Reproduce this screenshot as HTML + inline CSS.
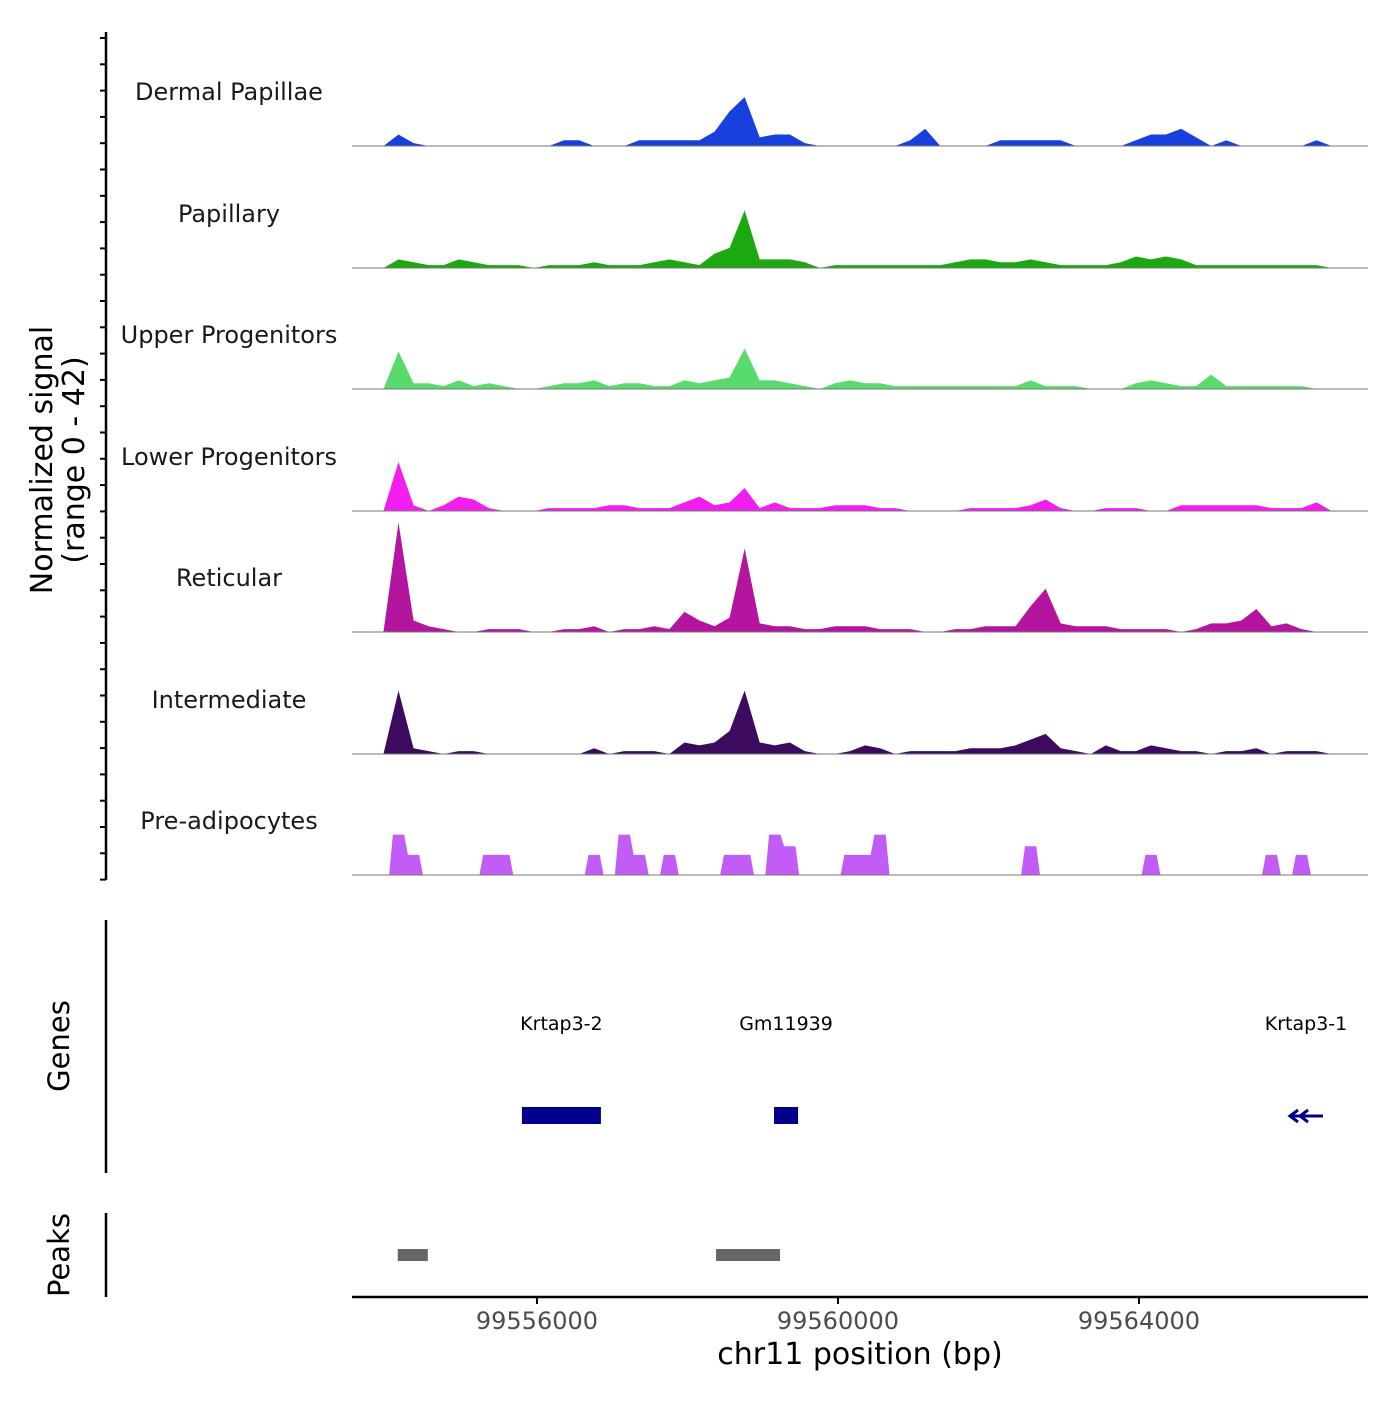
<!DOCTYPE html>
<html><head><meta charset="utf-8"><style>
html,body{margin:0;padding:0;background:#fff;}
svg text{font-family:"DejaVu Sans","Liberation Sans",sans-serif;}
</style></head><body>
<svg id="chart" width="1400" height="1400" viewBox="0 0 1400 1400" xmlns="http://www.w3.org/2000/svg">
<g id="tracks"></g>
<g id="axes"></g>
</svg>
<script>
const trackNames = ["Dermal Papillae","Papillary","Upper Progenitors","Lower Progenitors","Reticular","Intermediate","Pre-adipocytes"];
const trackColors = ["#1740dc","#1ca810","#58da6c","#f21ef0","#b4159f","#3c0b5f","#c25cf7"];
const binStart = 99553560;
const binSize = 200;
const dermal = [0,0,0,4,1,0,0,0,0,0,0,0,0,0,2,2,0,0,0,2,2,2,2,2,5,12,17,3,4,4,1,0,0,0,0,0,0,2,6,0,0,0,0,2,2,2,2,2,0,0,0,0,2,4,4,6,3,0,2,0,0,0,0,0,2,0];
const papillary = [0,0,0,3,2,1,1,3,2,1,1,1,0,1,1,1,2,1,1,1,2,3,2,1,5,7,20,3,3,3,2,0,1,1,1,1,1,1,1,1,2,3,3,2,2,3,2,1,1,1,1,2,4,3,4,3,1,1,1,1,1,1,1,1,1,0];
const upper = [0,0,0,13,2,2,1,3,1,2,1,0,0,1,2,2,3,1,2,2,1,1,3,2,3,4,14,3,3,2,1,0,2,3,2,2,1,1,1,1,1,1,1,1,1,3,1,1,1,0,0,0,2,3,2,1,1,5,1,1,1,1,1,1,0,0];
const lower = [0,0,0,17,2,0,2,5,4,1,0,0,0,1,1,1,1,2,2,1,1,1,3,5,2,3,8,1,3,1,1,1,2,2,2,1,1,0,0,0,0,1,1,1,1,2,4,1,0,0,1,1,1,0,0,2,2,2,2,2,2,1,1,1,3,0];
const reticular = [0,0,0,38,4,2,1,0,0,1,1,1,0,0,1,1,2,0,1,1,2,1,7,4,2,5,29,3,2,2,1,1,2,2,2,1,1,1,0,0,1,1,2,2,2,9,15,3,2,2,2,1,1,1,1,0,1,3,3,4,8,2,3,1,0,0];
const intermediate = [0,0,0,22,2,1,0,1,1,0,0,0,0,0,0,0,2,0,1,1,1,0,4,3,4,8,22,4,3,4,1,0,0,1,3,2,0,1,1,1,1,2,2,2,3,5,7,2,1,0,3,1,1,3,2,1,1,0,1,1,2,0,1,1,1,0];
const preadipo = [0,0,0,14,7,0,0,0,0,7,7,0,0,0,0,0,7,0,14,7,0,7,0,0,0,7,7,0,14,10,0,0,0,7,7,14,0,0,0,0,0,0,0,0,0,10,0,0,0,0,0,0,0,7,0,0,0,0,0,0,0,7,0,7,0,0];
const series = [dermal,papillary,upper,lower,reticular,intermediate,preadipo];
const xTicks = [99556000,99560000,99564000];
const genes = [["Krtap3-2",99555800,99556850],["Gm11939",99559150,99559470]];
const peaks = [[99554150,99554550],[99558380,99559230]];
const yMax = 42;

const NS="http://www.w3.org/2000/svg";
const X0=352,X1=1368,bp0=99553542,pxPerBp=301/4000;
function xs(bp){return X0+(bp-bp0)*pxPerBp;}
const baselines=[146,268,389,511,632,754,875];
const trackH=121;
function ys(v,i){return baselines[i]-v/yMax*trackH;}
function mk(tag,attrs,parent){const e=document.createElementNS(NS,tag);for(const k in attrs)e.setAttribute(k,attrs[k]);parent.appendChild(e);return e;}
const gT=document.getElementById('tracks'), gA=document.getElementById('axes');

series.forEach((arr,i)=>{
  let pts=[];
  pts.push(xs(binStart-binSize/2)+','+baselines[i]);
  arr.forEach((v,j)=>{
    if(i===6){
      pts.push(xs(binStart+j*binSize-binSize/2+25)+','+ys(v,i));
      pts.push(xs(binStart+j*binSize+binSize/2-25)+','+ys(v,i));
    } else pts.push(xs(binStart+j*binSize)+','+ys(v,i));
  });
  pts.push(xs(binStart+arr.length*binSize)+','+baselines[i]);
  const p=mk('polygon',{points:pts.join(' '),fill:trackColors[i]},gT);
  
  
  const l=mk('line',{x1:X0,x2:X1,y1:baselines[i],y2:baselines[i],stroke:'#777','stroke-width':1},gT);
  
  
  const t=mk('text',{x:229,y:baselines[i]-46,'text-anchor':'middle','font-size':24,fill:'#1a1a1a'},gT);
  t.textContent=trackNames[i];
  
  
});

let a=mk('line',{x1:106,x2:106,y1:32,y2:880,stroke:'#000','stroke-width':2.5},gA);


for(let y=38;y<=880;y+=26.3){
  const tk=mk('line',{x1:100,x2:106,y1:y,y2:y,stroke:'#000','stroke-width':2},gA);
  
  
}
let yt=mk('text',{transform:'translate(52,460) rotate(-90)','text-anchor':'middle','font-size':30,fill:'#000'},gA);
yt.innerHTML='<tspan x="0" dy="0">Normalized signal</tspan><tspan x="0" dy="32">(range 0 - 42)</tspan>';



a=mk('line',{x1:106,x2:106,y1:920,y2:1173,stroke:'#000','stroke-width':2.5},gA);


let gl=mk('text',{transform:'translate(69,1046) rotate(-90)','text-anchor':'middle','font-size':29,fill:'#000'},gA);
gl.textContent='Genes';


genes.forEach(g=>{
  const r=mk('rect',{x:xs(g[1]),y:1107,width:xs(g[2])-xs(g[1]),height:17,fill:'#00008b'},gA);
  
  
  const t=mk('text',{x:(xs(g[1])+xs(g[2]))/2,y:1030,'text-anchor':'middle','font-size':19,fill:'#000'},gA);
  t.textContent=g[0];
  
  
});
let ar=mk('path',{d:'M1290 1116 L1323 1116 M1298 1110 L1290 1116 L1298 1122 M1308 1110 L1300 1116 L1308 1122',stroke:'#00008b','stroke-width':3,fill:'none'},gA);


let kt=mk('text',{x:1306,y:1030,'text-anchor':'middle','font-size':19,fill:'#000'},gA);
kt.textContent='Krtap3-1';



a=mk('line',{x1:106,x2:106,y1:1213,y2:1297,stroke:'#000','stroke-width':2.5},gA);


let pl=mk('text',{transform:'translate(69,1255) rotate(-90)','text-anchor':'middle','font-size':29,fill:'#000'},gA);
pl.textContent='Peaks';


peaks.forEach(p=>{
  const r=mk('rect',{x:xs(p[0]),y:1249,width:xs(p[1])-xs(p[0]),height:12,fill:'#666'},gA);
  
  
});

a=mk('line',{x1:X0,x2:X1,y1:1297,y2:1297,stroke:'#000','stroke-width':2.5},gA);


xTicks.forEach(v=>{
  const tk=mk('line',{x1:xs(v),x2:xs(v),y1:1297,y2:1304,stroke:'#000','stroke-width':2},gA);
  
  
  const t=mk('text',{x:xs(v),y:1329,'text-anchor':'middle','font-size':24,fill:'#4d4d4d'},gA);
  t.textContent=String(v);
  
  
});
let xt=mk('text',{x:860,y:1364,'text-anchor':'middle','font-size':30,fill:'#000'},gA);
xt.textContent='chr11 position (bp)';


</script>
</body></html>
